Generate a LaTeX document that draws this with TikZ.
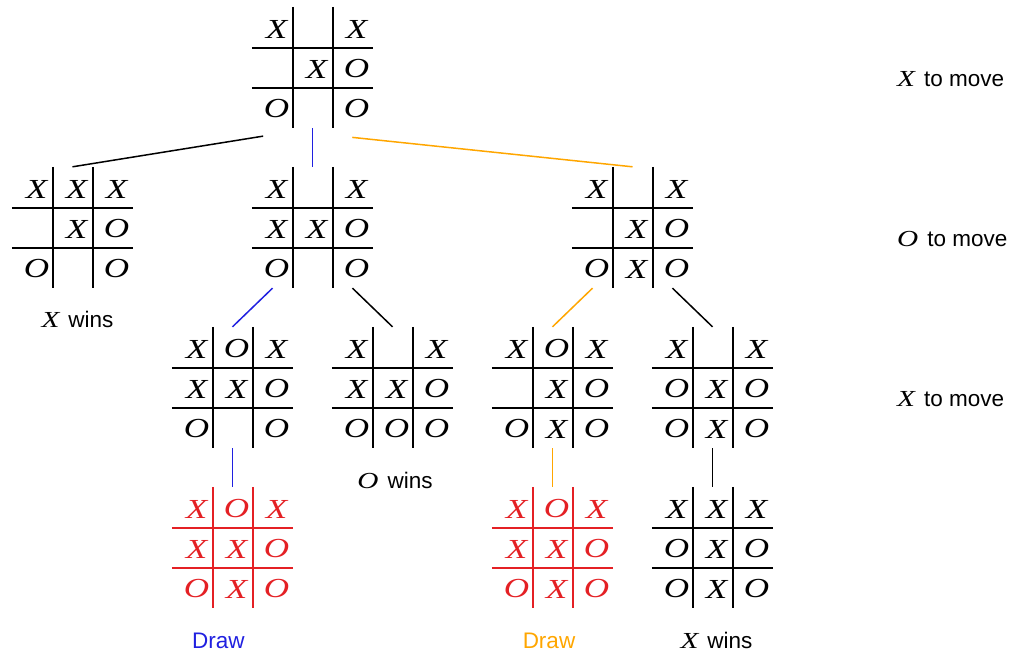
\documentclass[tikz,border=0pt]{standalone}
\usepackage{fontspec}
\setmainfont{Liberation Sans}
\newfontfamily\markfont{Liberation Serif}
\usetikzlibrary{calc,positioning}
\definecolor{drawred}{RGB}{228,32,36}
\definecolor{drawblue}{RGB}{32,32,224}
\definecolor{draworange}{RGB}{255,166,0}

\newcommand{\mk}[1]{\scalebox{1.3}[1.02]{\markfont\itshape #1}}
% one board: name, centre, colour, marks row by row
\newcommand{\tttboard}[4]{%
  \node[boardbox] (#1) at (#2) {};
  \foreach \s in {-20,20} {
    \draw[gridline,#3] ($(#1.north)+(\s,0)$) -- ($(#1.south)+(\s,0)$);
    \draw[gridline,#3] ($(#1.west)+(0,\s)$) -- ($(#1.east)+(0,\s)$);
  }
  \foreach \m [count=\idx from 0] in {#4} {
    \pgfmathtruncatemacro{\bcol}{mod(\idx,3)}
    \pgfmathtruncatemacro{\brow}{div(\idx,3)}
    \node[markcell,#3] at ($(#1)+({(\bcol-1)*40+4},{(\brow-1)*40+1.5})$) {\mk{\m}};
  }
}

\begin{document}
\begin{tikzpicture}[x=1pt, y=-1pt,
    boardbox/.style={minimum width=121pt, minimum height=121pt, inner sep=0pt},
    gridline/.style={line width=2pt},
    markcell/.style={inner sep=0pt, font=\fontsize{27}{30}\selectfont},
    link/.style={line width=1.5pt},
    caption/.style={inner sep=0pt, anchor=base, font=\fontsize{22.5}{26}\selectfont}]
  \useasboundingbox (0,0) rectangle (1015,653);

  % the game tree
  \tttboard{root}{312.5,67.5}{black}{X,,X,,X,O,O,,O}
  \tttboard{m1}{72.5,227.5}{black}{X,X,X,,X,O,O,,O}
  \tttboard{m2}{312.5,227.5}{black}{X,,X,X,X,O,O,,O}
  \tttboard{m3}{632.5,227.5}{black}{X,,X,,X,O,O,X,O}
  \tttboard{r1}{232.5,387.5}{black}{X,O,X,X,X,O,O,,O}
  \tttboard{r2}{392.5,387.5}{black}{X,,X,X,X,O,O,O,O}
  \tttboard{r3}{552.5,387.5}{black}{X,O,X,,X,O,O,X,O}
  \tttboard{r4}{712.5,387.5}{black}{X,,X,O,X,O,O,X,O}
  \tttboard{f1}{232.5,547.5}{drawred}{X,O,X,X,X,O,O,X,O}
  \tttboard{f2}{552.5,547.5}{drawred}{X,O,X,X,X,O,O,X,O}
  \tttboard{f3}{712.5,547.5}{black}{X,X,X,O,X,O,O,X,O}

  \draw[link, shorten <=50pt] (root.south) -- (m1.north);
  \draw[link, drawblue] (root.south) -- (m2.north);
  \draw[link, draworange, shorten <=40pt] ([yshift=-5pt]root.south) -- (m3.north);
  \draw[link, drawblue] ([xshift=-40pt]m2.south) -- (r1.north);
  \draw[link] ([xshift=40pt]m2.south) -- (r2.north);
  \draw[link, draworange] ([xshift=-40pt]m3.south) -- (r3.north);
  \draw[link] ([xshift=40pt]m3.south) -- (r4.north);
  \draw[link, drawblue] (r1.south) -- (f1.north);
  \draw[link, draworange] (r3.south) -- (f2.north);
  \draw[link] (r4.south) -- (f3.north);

  % outcomes
  \node[caption] (win1) at (77.5,327) {\mk{X}\hspace{0.4em}wins};
  \node[caption] (win2) at (395,488) {\mk{O}\hspace{0.4em}wins};
  \node[caption, text=drawblue] (draw1) at (218.5,648) {Draw};
  \node[caption, text=draworange] (draw2) at (549,648) {Draw};
  \node[caption] (win3) at (716.5,648) {\mk{X}\hspace{0.4em}wins};

  % whose turn
  \node[caption, anchor=base west] (turn1) at (897,86) {\mk{X}\hspace{0.4em}to move};
  \node[caption, anchor=base west] (turn2) at (897,246) {\mk{O}\hspace{0.4em}to move};
  \node[caption, anchor=base west] (turn3) at (897,406) {\mk{X}\hspace{0.4em}to move};
\end{tikzpicture}
\end{document}
